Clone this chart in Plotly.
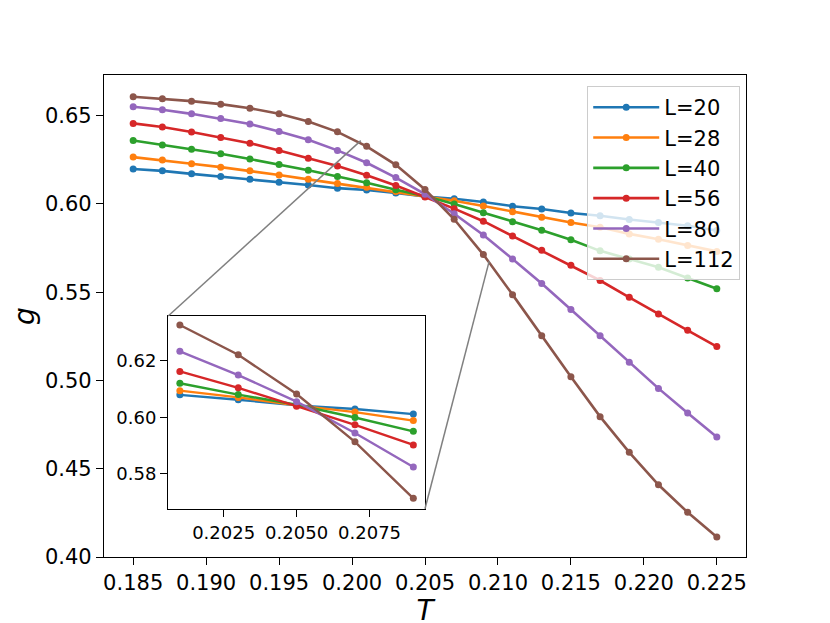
import plotly.graph_objects as go

# temperatures and Binder-like ratio g for each system size
T = [0.185, 0.187, 0.189, 0.191, 0.193, 0.195, 0.197, 0.199, 0.201, 0.203, 0.205,
     0.207, 0.209, 0.211, 0.213, 0.215, 0.217, 0.219, 0.221, 0.223, 0.225]

g_L20 = [0.6198, 0.6187, 0.6170, 0.6155, 0.6139, 0.6122, 0.6107, 0.6089, 0.6079, 0.6062, 0.6042,
         0.6029, 0.6011, 0.5987, 0.5971, 0.5948, 0.5933, 0.5912, 0.5895, 0.5876, 0.5849]
g_L28 = [0.6265, 0.6248, 0.6227, 0.6208, 0.6187, 0.6164, 0.6139, 0.6115, 0.6094, 0.6070, 0.6042,
         0.6018, 0.5988, 0.5956, 0.5925, 0.5895, 0.5868, 0.5830, 0.5800, 0.5765, 0.5731]
g_L40 = [0.6359, 0.6334, 0.6309, 0.6284, 0.6254, 0.6223, 0.6191, 0.6155, 0.6120, 0.6080, 0.6044,
         0.5999, 0.5950, 0.5899, 0.5851, 0.5797, 0.5734, 0.5688, 0.5641, 0.5580, 0.5519]
g_L56 = [0.6456, 0.6435, 0.6407, 0.6376, 0.6344, 0.6303, 0.6259, 0.6214, 0.6162, 0.6104, 0.6039,
         0.5973, 0.5902, 0.5818, 0.5737, 0.5652, 0.5566, 0.5471, 0.5376, 0.5284, 0.5192]
g_L80 = [0.6550, 0.6533, 0.6510, 0.6483, 0.6452, 0.6410, 0.6363, 0.6303, 0.6233, 0.6149, 0.6055,
         0.5944, 0.5824, 0.5688, 0.5549, 0.5402, 0.5253, 0.5103, 0.4955, 0.4816, 0.4680]
g_L112 = [0.6607, 0.6596, 0.6582, 0.6565, 0.6542, 0.6510, 0.6467, 0.6408, 0.6326, 0.6221, 0.6082,
          0.5913, 0.5713, 0.5486, 0.5253, 0.5021, 0.4795, 0.4593, 0.4409, 0.4253, 0.4113]

sizes = ["L=20", "L=28", "L=40", "L=56", "L=80", "L=112"]
series = [g_L20, g_L28, g_L40, g_L56, g_L80, g_L112]
colors = ["#1f77b4", "#ff7f0e", "#2ca02c", "#d62728", "#9467bd", "#8c564b"]

# inset shows the crossing region T = 0.201 .. 0.209
inset_lo, inset_hi = 8, 13

main_x = [0.183, 0.227]
main_y = [0.40, 0.673]
ins_x = [0.2006, 0.2094]
ins_y = [0.5676, 0.6358]
ins_dom_x = [0.1, 0.5]
ins_dom_y = [0.1, 0.5]

fig = go.Figure()
for name, vals, c in zip(sizes, series, colors):
    fig.add_trace(go.Scatter(x=T, y=vals, name=name, mode="lines+markers",
                             line=dict(color=c, width=2.6),
                             marker=dict(color=c, size=7)))
    fig.add_trace(go.Scatter(x=T[inset_lo:inset_hi], y=vals[inset_lo:inset_hi],
                             mode="lines+markers", showlegend=False,
                             line=dict(color=c, width=2.4),
                             marker=dict(color=c, size=7),
                             xaxis="x2", yaxis="y2"))


def to_paper(x, y):
    px = (x - main_x[0]) / (main_x[1] - main_x[0])
    py = (y - main_y[0]) / (main_y[1] - main_y[0])
    return px, py


# connector lines between inset corners and the zoomed region
p1 = to_paper(ins_x[0], ins_y[1])
p2 = to_paper(ins_x[1], ins_y[0])
shapes = [
    dict(type="line", xref="paper", yref="paper", x0=ins_dom_x[0], y0=ins_dom_y[1],
         x1=p1[0], y1=p1[1], line=dict(color="gray", width=1.5)),
    dict(type="line", xref="paper", yref="paper", x0=ins_dom_x[1], y0=ins_dom_y[0],
         x1=p2[0], y1=p2[1], line=dict(color="gray", width=1.5)),
]

axis_style = dict(showline=True, linecolor="black", linewidth=1.3, mirror=True,
                  showgrid=False, zeroline=False, ticks="outside", ticklen=7,
                  tickwidth=1.3, tickcolor="black")

fig.update_layout(
    width=814, height=619,
    margin=dict(l=96, r=76, t=67, b=61),
    paper_bgcolor="white", plot_bgcolor="white",
    font=dict(family="DejaVu Sans", color="black", size=21),
    shapes=shapes,
    xaxis=dict(range=main_x, tickvals=[0.185, 0.19, 0.195, 0.2, 0.205, 0.21, 0.215, 0.22, 0.225],
               tickformat=".3f", tickfont=dict(size=21),
               title=dict(text="<i>T</i>", font=dict(size=28), standoff=0), **axis_style),
    yaxis=dict(range=main_y, tickvals=[0.40, 0.45, 0.50, 0.55, 0.60, 0.65],
               tickformat=".2f", tickfont=dict(size=21),
               title=dict(text="<i>g</i>", font=dict(size=28), standoff=4), **axis_style),
    xaxis2=dict(domain=ins_dom_x, anchor="y2", range=ins_x,
                tickvals=[0.2025, 0.205, 0.2075], tickformat=".4f",
                tickfont=dict(size=18), **axis_style),
    yaxis2=dict(domain=ins_dom_y, anchor="x2", range=ins_y,
                tickvals=[0.58, 0.60, 0.62], tickformat=".2f",
                tickfont=dict(size=18), **axis_style),
    legend=dict(x=0.991, y=0.977, xanchor="right", yanchor="top", itemwidth=66,
                bgcolor="rgba(255,255,255,0.8)", bordercolor="#cccccc", borderwidth=1,
                font=dict(size=21)),
)

fig.write_html("out.html")
